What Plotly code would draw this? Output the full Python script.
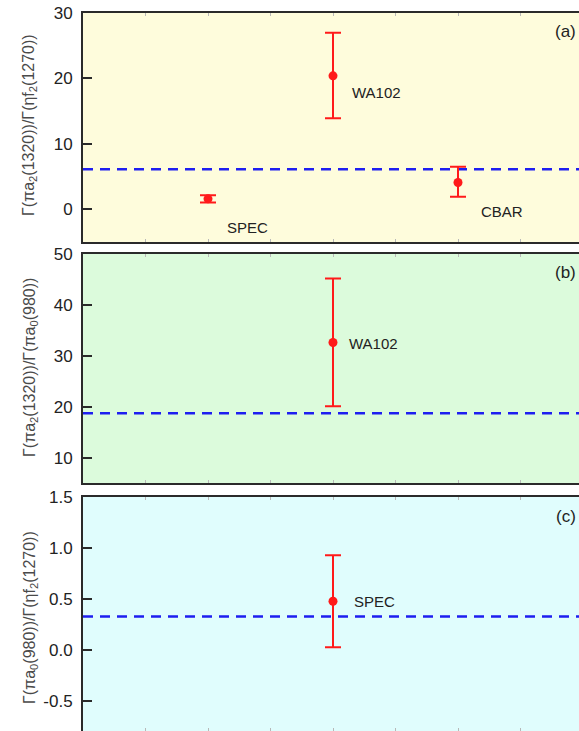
import plotly.graph_objects as go

# ---- data -------------------------------------------------------------
# panel (a): Γ(πa2(1320))/Γ(ηf2(1270))
a_labels = ["SPEC", "WA102", "CBAR"]
a_x = [2, 4, 6]
a_y = [1.6, 20.4, 4.1]
a_err_plus = [0.55, 6.6, 2.4]
a_err_minus = [0.55, 6.5, 2.2]
a_ref = 6.1

# panel (b): Γ(πa2(1320))/Γ(πa0(980))
b_labels = ["WA102"]
b_x = [4]
b_y = [32.6]
b_err_plus = [12.6]
b_err_minus = [12.5]
b_ref = 18.7

# panel (c): Γ(πa0(980))/Γ(ηf2(1270))
c_labels = ["SPEC"]
c_x = [4]
c_y = [0.48]
c_err_plus = [0.45]
c_err_minus = [0.45]
c_ref = 0.33

x_range = [0, 7.936]
y_ranges = [[-5, 30], [5, 50], [-0.79, 1.5]]
y_ticks = [[0, 10, 20, 30], [10, 20, 30, 40, 50], [-0.5, 0.0, 0.5, 1.0, 1.5]]
y_ticktext = [["0", "10", "20", "30"], ["10", "20", "30", "40", "50"],
              ["-0.5", "0.0", "0.5", "1.0", "1.5"]]
y_titles = [
    "Γ(πa<sub>2</sub>(1320))/Γ(ηf<sub>2</sub>(1270))",
    "Γ(πa<sub>2</sub>(1320))/Γ(πa<sub>0</sub>(980))",
    "Γ(πa<sub>0</sub>(980))/Γ(ηf<sub>2</sub>(1270))",
]
panel_tags = ["(a)", "(b)", "(c)"]
panel_bg = ["#FEFCDC", "#DCFBDC", "#E0FDFD"]

# ---- layout geometry (pixels) ----------------------------------------
W, H = 579, 731
ML, MT = 83, 13
PH = H - MT
panel_px = [(13, 242), (254, 483), (497, 731)]


def frac(ypx):
    return 1 - (ypx - MT) / PH


domains = [[max(0, frac(b)), min(1, frac(t))] for t, b in panel_px]

RED = "#FF1A1A"
BLUE = "#1E1EF0"
AXIS = "#2A2A2A"
TXT = "#222222"
FONT = "Liberation Sans, Arial, sans-serif"

fig = go.Figure()

panels = [
    (a_x, a_y, a_err_plus, a_err_minus, a_ref),
    (b_x, b_y, b_err_plus, b_err_minus, b_ref),
    (c_x, c_y, c_err_plus, c_err_minus, c_ref),
]

for i, (px, py, ep, em, ref) in enumerate(panels):
    xa = "x" if i == 0 else f"x{i+1}"
    ya = "y" if i == 0 else f"y{i+1}"
    # reference dashed line
    fig.add_trace(go.Scatter(
        x=x_range, y=[ref, ref], mode="lines", xaxis=xa, yaxis=ya,
        line=dict(color=BLUE, width=2.5, dash="10px,7px"),
        hoverinfo="skip", showlegend=False))
    # measurements
    fig.add_trace(go.Scatter(
        x=px, y=py, mode="markers", xaxis=xa, yaxis=ya,
        marker=dict(color=RED, size=9, symbol="circle"),
        error_y=dict(type="data", symmetric=False, array=ep, arrayminus=em,
                     color=RED, thickness=2, width=8),
        showlegend=False))

# per-panel axes
for i in range(3):
    xkey = "xaxis" if i == 0 else f"xaxis{i+1}"
    ykey = "yaxis" if i == 0 else f"yaxis{i+1}"
    yname = "y" if i == 0 else f"y{i+1}"
    xname = "x" if i == 0 else f"x{i+1}"
    fig.layout[xkey] = dict(
        domain=[0, 1], range=x_range, anchor=yname,
        showline=True, linecolor=AXIS, linewidth=2, mirror="ticks",
        ticks="inside", ticklen=3, tickwidth=1, tickcolor="#B8B8B8",
        tickmode="linear", tick0=0, dtick=1,
        showticklabels=False, showgrid=False, zeroline=False, fixedrange=True)
    fig.layout[ykey] = dict(
        domain=domains[i], range=y_ranges[i], anchor=xname,
        showline=True, linecolor=AXIS, linewidth=2,
        ticks="inside", ticklen=9, tickwidth=1.5, tickcolor=AXIS,
        tickvals=y_ticks[i], ticktext=y_ticktext[i],
        ticklabelstandoff=5,
        tickfont=dict(family=FONT, size=17, color=TXT),
        showgrid=False, zeroline=False, fixedrange=True)
    # panel background
    fig.add_shape(type="rect", xref=f"{xname} domain", yref=f"{yname} domain",
                  x0=0, x1=1, y0=0, y1=1, layer="below",
                  fillcolor=panel_bg[i], line=dict(width=0))
    # panel tag
    fig.add_annotation(x=0.997, y=0.918, xref=f"{xname} domain",
                       yref=f"{yname} domain", text=panel_tags[i],
                       showarrow=False, xanchor="right", yanchor="middle",
                       font=dict(family=FONT, size=17, color=TXT))

# rotated y titles
title_centers_px = [125, 368, 618]
for i, ycen in enumerate(title_centers_px):
    fig.add_annotation(x=(30 - ML) / (W - ML), y=frac(ycen), xref="paper",
                       yref="paper", text=y_titles[i], textangle=-90,
                       showarrow=False, xanchor="center", yanchor="middle",
                       font=dict(family=FONT, size=16, color="#4A4A4A"))

# experiment labels
label_font = dict(family=FONT, size=15, color=TXT)
fig.add_annotation(x=4.27, y=17.9, xref="x", yref="y", text=a_labels[1],
                   showarrow=False, xanchor="left", font=label_font)
fig.add_annotation(x=2.63, y=-2.85, xref="x", yref="y", text=a_labels[0],
                   showarrow=False, xanchor="center", font=label_font)
fig.add_annotation(x=6.7, y=-0.4, xref="x", yref="y", text=a_labels[2],
                   showarrow=False, xanchor="center", font=label_font)
fig.add_annotation(x=4.22, y=32.4, xref="x2", yref="y2", text=b_labels[0],
                   showarrow=False, xanchor="left", font=label_font)
fig.add_annotation(x=4.3, y=0.48, xref="x3", yref="y3", text=c_labels[0],
                   showarrow=False, xanchor="left", font=label_font)

fig.update_layout(
    width=W, height=H,
    margin=dict(l=ML, r=0, t=MT, b=0, pad=0),
    paper_bgcolor="white", plot_bgcolor="white",
    showlegend=False,
    font=dict(family=FONT),
)

fig.write_html("out.html", config={"displayModeBar": False})
